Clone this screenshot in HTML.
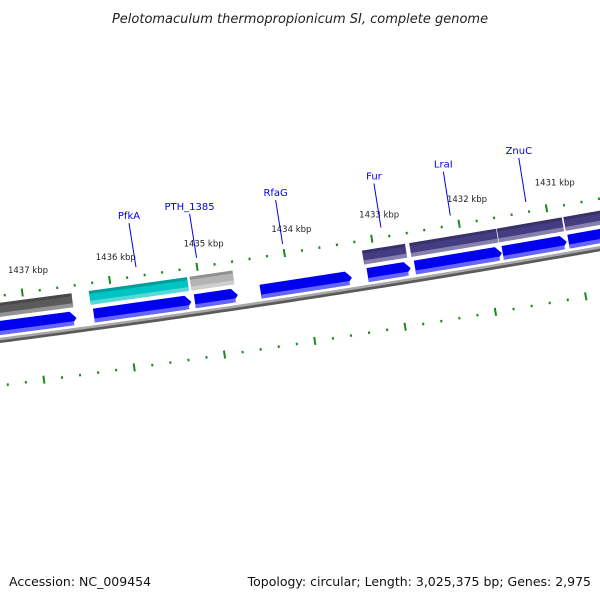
<!DOCTYPE html>
<html><head><meta charset="utf-8">
<style>
html,body{margin:0;padding:0;background:#fff;}
svg{display:block;font-family:"DejaVu Sans","Liberation Sans",sans-serif;}
</style></head>
<body>
<svg id="map" width="600" height="600" viewBox="0 0 600 600" xmlns="http://www.w3.org/2000/svg">
<text x="300" y="23" text-anchor="middle" font-size="13" font-style="italic" fill="#222">Pelotomaculum thermopropionicum SI, complete genome</text>
<g id="track"></g>
<g id="labels"></g>
<text x="9" y="586" font-size="12.5" fill="#111">Accession: NC_009454</text>
<text x="591" y="586" text-anchor="end" font-size="12.5" fill="#111">Topology: circular; Length: 3,025,375 bp; Genes: 2,975</text>
</svg>
<script>
// data (kbp)
const geneStarts = [1437.4, 1436.23, 1435.08, 1434.33, 1433.11, 1432.57, 1431.57, 1430.82];
const geneEnds   = [1436.43, 1435.12, 1434.59, 1433.29, 1432.62, 1431.58, 1430.84, 1430.2];
const cogStarts  = [1437.4, 1436.25, 1435.10, 1433.13, 1432.59, 1431.59, 1430.83];
const cogEnds    = [1436.45, 1435.13, 1434.61, 1432.64, 1431.60, 1430.85, 1430.2];
const cogColors  = ["#5a5a5a", "#00c4c4", "#b4b4b4", "#463c82", "#463c82", "#463c82", "#463c82"];
const tickLabels = [1437, 1436, 1435, 1434, 1433, 1432, 1431];
const geneNames  = ["PfkA", "PTH_1385", "RfaG", "Fur", "LraI", "ZnuC"];
const geneNamePos = [1435.77, 1435.08, 1434.10, 1432.98, 1432.19, 1431.33];

const NS = "http://www.w3.org/2000/svg";
function xOf(k){ return 28 + (1437 - k) * 87.8; }
function xInner(k){ return 38 + (1437 - k) * 90; }
function yb(x){ return 340 - 0.153*x + 4e-5*x*(600-x); }
function slope(x){ return -0.153 + 4e-5*(600-2*x); }
function ang(x){ return Math.atan(slope(x))*180/Math.PI; }
function mk(tag, attrs, parent){ const e=document.createElementNS(NS,tag); for(const k in attrs) e.setAttribute(k,attrs[k]); parent.appendChild(e); return e; }
const track = document.getElementById('track');
const labels = document.getElementById('labels');

// backbone
let d1='', d2='';
for (let x=-10;x<=610;x+=10){ d1 += (x===-10?'M':'L') + x + ',' + (yb(x)+1.5) + ' '; d2 += (x===-10?'M':'L') + x + ',' + (yb(x)-1) + ' '; }
let bb = mk('path',{d:d1,fill:'none',stroke:'#5a5a5a','stroke-width':3},track);


let bb2 = mk('path',{d:d2,fill:'none',stroke:'#a8a8a8','stroke-width':2.5},track);



function frame(x){
  return mk('g',{transform:`translate(${x},${yb(x)}) rotate(${ang(x)})`},track);
}

// ticks
for (let i=0;i<=36;i++){
  const k = 1437.4 - i*0.2;
  const major = Math.abs(k - Math.round(k)) < 0.01;
  const x = xOf(k);
  const off = -44 - 5*x/600;
  const g = frame(x);
  const t = mk('rect', major ? {x:-1,y:off-4,width:2,height:8,fill:'#1a8a1a'} : {x:-1,y:off-1,width:2,height:2.5,fill:'#1a8a1a'}, g);
  
  
  const x2 = xInner(k);
  const g2 = frame(x2);
  const t2 = mk('rect', major ? {x:-1,y:41,width:2,height:8,fill:'#1a8a1a'} : {x:-1,y:44,width:2,height:2.5,fill:'#1a8a1a'}, g2);
  
  
}

// COG boxes
for (let i=0;i<cogStarts.length;i++){
  const x0=xOf(cogStarts[i]), x1=xOf(cogEnds[i]), xc=(x0+x1)/2;
  const L=(x1-x0)/Math.cos(Math.atan(slope(xc)));
  const g = frame(xc);
  
  
  mk('rect',{x:-L/2,y:-37,width:L,height:14,fill:cogColors[i]},g);
  mk('rect',{x:-L/2,y:-37,width:L,height:3,fill:'#000',opacity:0.2},g);
  mk('rect',{x:-L/2,y:-27,width:L,height:4,fill:'#fff',opacity:0.35},g);
}

// gene arrows
for (let i=0;i<geneStarts.length;i++){
  const x0=xOf(geneStarts[i]), x1=xOf(geneEnds[i]), xc=(x0+x1)/2;
  const L=(x1-x0)/Math.cos(Math.atan(slope(xc)));
  const g = frame(xc);
  
  
  const a=-L/2, b=L/2, t=-19, h=14;
  mk('polygon',{points:`${a},${t} ${b-6},${t} ${b},${t+h/2} ${b-6},${t+h} ${a},${t+h}`,fill:'#0000ee'},g);
  mk('rect',{x:a,y:t+h-4,width:Math.max(0,L-3),height:4,fill:'#6666ff'},g);
}

// kbp labels
for (let i=0;i<tickLabels.length;i++){
  const x = xOf(tickLabels[i]);
  const y = yb(x) - (63 + 8*x/600);
  const t = mk('text',{x:x, y:y, 'font-size':8.5, 'text-anchor':'middle', fill:'#222'},labels);
  t.textContent = tickLabels[i] + ' kbp';
  
  
}

// gene name labels with leader lines
for (let i=0;i<geneNames.length;i++){
  const x = xOf(geneNamePos[i]);
  const yEnd = yb(x) - (53 + 7*x/600);
  const ln = mk('line',{x1:x-7,y1:yEnd-44,x2:x,y2:yEnd,stroke:'#0000ee','stroke-width':1},labels);
  
  
  const t = mk('text',{x:x-7,y:yEnd-48,'font-size':10,'text-anchor':'middle',fill:'#0000ee'},labels);
  t.textContent = geneNames[i];
  
  
}
</script>
</body></html>
